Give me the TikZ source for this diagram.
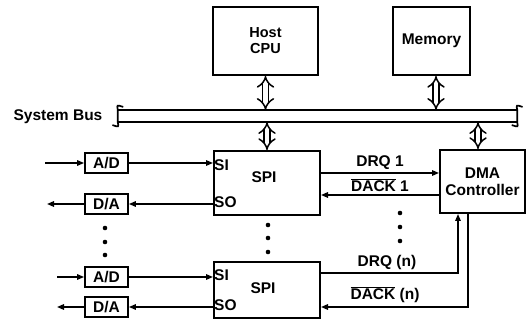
\documentclass[tikz,border=0pt]{standalone}
\usepackage{fontspec}
\setmainfont{Liberation Sans}
\usepackage{tikz}
\usetikzlibrary{positioning, arrows.meta, calc}

\tikzset{
  blk/.style={draw, line width=2pt, inner sep=0pt, align=center},
  conv/.style={draw, line width=1.8pt, inner sep=0pt, minimum width=43pt, minimum height=20pt},
  sig/.style={line width=1.5pt, -{Triangle[length=7pt,width=5.5pt]}},
  busarr/.style={double, double distance=4.5pt, line width=1.5pt, {Implies}-{Implies}},
  buswall/.style={line width=1.7pt, line cap=round},
  lbl/.style={inner sep=1pt},
}

\begin{document}
\begin{tikzpicture}[x=1pt, y=-1pt,
    every node/.style={font=\bfseries\fontsize{15.5}{17}\selectfont}]
  \useasboundingbox (0,0) rectangle (528,323);

  % top blocks and bus
  \node[blk, minimum width=105pt, minimum height=68pt,
        font=\bfseries\fontsize{14.5}{16}\selectfont] (cpu) at (265.5,41) {Host\\CPU};
  \node[blk, minimum width=77pt, minimum height=68pt] (mem) at (431.5,41) {Memory};
  \node[minimum width=399pt, minimum height=12pt, inner sep=0pt] (bus) at (317.5,116) {};
  \node[lbl] (buslbl) at (58,117) {System Bus};
  \draw[buswall] (bus.north west) -- (bus.north east);
  \draw[buswall] (bus.south west) -- (bus.south east);
  \draw[buswall] ([shift={(5pt,3pt)}]bus.north west) .. controls ([shift={(-1pt,5pt)}]bus.north west) ..
    (bus.north west) -- (bus.south west) .. controls ([shift={(1pt,-5pt)}]bus.south west) ..
    ([shift={(-5pt,-3pt)}]bus.south west);
  \draw[buswall] ([shift={(5pt,3pt)}]bus.north east) .. controls ([shift={(-1pt,5pt)}]bus.north east) ..
    (bus.north east) -- (bus.south east) .. controls ([shift={(1pt,-5pt)}]bus.south east) ..
    ([shift={(-5pt,-3pt)}]bus.south east);

  % serial port interfaces and DMA
  \node[blk, minimum width=106pt, minimum height=64pt] (spi1) at (267,183) {};
  \node[blk, minimum width=106pt, minimum height=56pt] (spi2) at (267,290) {};
  \node[blk, minimum width=85pt, minimum height=63pt] (dma) at (482.5,181.5) {DMA\\Controller};
  \node[lbl] (spi1lbl) at (264,177) {SPI};
  \node[lbl] (spi2lbl) at (263,288) {SPI};

  \draw[busarr] (cpu.south) -- (cpu.south |- bus.north);
  \draw[busarr] ([xshift=4.5pt]mem.south) -- ([xshift=4.5pt]mem.south |- bus.north);
  \draw[busarr] (spi1.north |- bus.south) -- (spi1.north);
  \draw[busarr] ([xshift=-4.5pt]dma.north |- bus.south) -- ([xshift=-4.5pt]dma.north);

  % converters
  \node[conv] (ad1) at (106.5,163) {A/D};
  \node[conv] (da1) at (106.5,204) {D/A};
  \node[conv] (ad2) at (106.5,277) {A/D};
  \node[conv] (da2) at (106.5,307) {D/A};
  \coordinate (in1) at (45,163);
  \coordinate (out1) at (47,204);
  \coordinate (in2) at (57,277);
  \coordinate (out2) at (57,307);

  \node[lbl, anchor=west] (si1) at (spi1.west |- 0,165) {SI};
  \node[lbl, anchor=west] (so1) at (spi1.west |- 0,202) {SO};
  \node[lbl, anchor=west] (si2) at (spi2.west |- 0,275) {SI};
  \node[lbl, anchor=west] (so2) at (spi2.west |- 0,305) {SO};

  \draw[sig] (in1) -- (ad1);
  \draw[sig] (ad1) -- (ad1 -| spi1.west);
  \draw[sig] (da1 -| spi1.west) -- (da1);
  \draw[sig] (da1) -- (out1);
  \draw[sig] (in2) -- (ad2);
  \draw[sig] (ad2) -- (ad2 -| spi2.west);
  \draw[sig] (da2 -| spi2.west) -- (da2);
  \draw[sig] (da2) -- (out2);

  % request / acknowledge lines
  \coordinate (rq1) at ([yshift=10pt]spi1.east);
  \coordinate (ak1) at ([yshift=-12pt]spi1.east);
  \coordinate (rqn) at ([yshift=17pt]spi2.east);
  \coordinate (akn) at ([yshift=-17pt]spi2.east);
  \coordinate (rqnup) at ([xshift=-24.5pt]dma.south);
  \coordinate (aknup) at ([xshift=-14.5pt]dma.south);
  \draw[sig] (rq1) -- (rq1 -| dma.west);
  \draw[sig] (ak1 -| dma.west) -- (ak1);
  \draw[sig] (rqn) -| (rqnup);
  \draw[sig] (aknup) |- (akn);

  \node[lbl] (rq1lbl) at (380,163) {DRQ 1};
  \node[lbl] (ak1lbl) at (380,185) {$\overline{\mbox{DACK}}$ 1};
  \node[lbl] (rqnlbl) at (387,262) {DRQ (n)};
  \node[lbl] (aknlbl) at (385,295) {$\overline{\mbox{DACK}}$ (n)};

  % ellipsis dots
  \foreach \y in {228,242,255} \fill (105,\y) circle (2.3pt);
  \foreach \y in {225,238,252} \fill (268,\y) circle (2.3pt);
  \foreach \y in {213,227,241} \fill (400,\y) circle (2.3pt);
\end{tikzpicture}
\end{document}
